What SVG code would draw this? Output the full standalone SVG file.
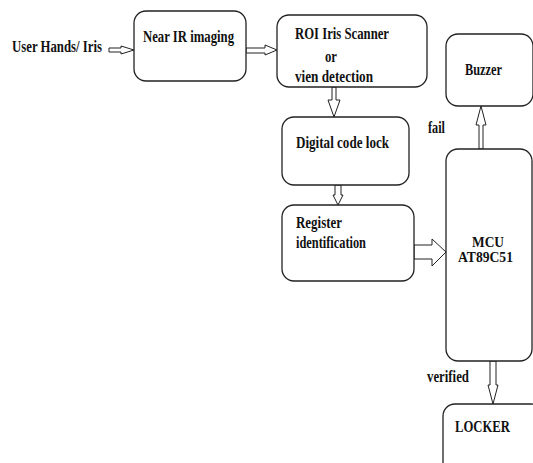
<svg xmlns="http://www.w3.org/2000/svg" width="533" height="463" viewBox="0 0 533 463">
<style>
.box{fill:#fff;stroke:#222;stroke-width:1.3}
.arr{fill:#fff;stroke:#222;stroke-width:1;stroke-linejoin:miter}
text{font-family:"Liberation Serif","Times New Roman",serif;font-weight:bold;font-size:16px;fill:#111}
</style>
<rect width="533" height="463" fill="#fff"/>
<g id="connectors">
<polygon class="arr" points="109,48 121,48 121,46 134,50 121,54 121,52 109,52"/>
<polygon class="arr" points="246,48 265,48 265,45 277,50 265,55 265,53 246,53"/>
<polygon class="arr" points="332,87 336,87 336,100 340,100 334,117 328,100 332,100"/>
<polygon class="arr" points="335,185 341,185 341,195 343,195 338,205 333,195 335,195"/>
<polygon class="arr" points="414,245 432,245 432,239 446,252 432,266 432,259 414,259"/>
<polygon class="arr" points="479,149 483,149 483,125 486,125 481,106 476,125 479,125"/>
<polygon class="arr" points="490,361 496,361 496,385 498,385 493,404 488,385 490,385"/>
</g>
<g id="user"><text x="12" y="52" textLength="90" lengthAdjust="spacingAndGlyphs">User Hands/ Iris</text></g>
<g id="nearir"><rect class="box" x="134" y="11" width="112" height="70" rx="12"/><text x="143" y="42" textLength="91" lengthAdjust="spacingAndGlyphs">Near IR imaging</text></g>
<g id="roi"><rect class="box" x="277" y="15" width="150" height="72" rx="12"/>
<text x="295" y="39" textLength="94" lengthAdjust="spacingAndGlyphs">ROI Iris Scanner</text>
<text x="325" y="62" textLength="12" lengthAdjust="spacingAndGlyphs">or</text>
<text x="295" y="82" textLength="78" lengthAdjust="spacingAndGlyphs">vien detection</text></g>
<g id="digital"><rect class="box" x="282" y="117" width="127" height="68" rx="12"/><text x="296" y="148" textLength="93" lengthAdjust="spacingAndGlyphs">Digital code lock</text></g>
<g id="register"><rect class="box" x="282" y="205" width="132" height="76" rx="12"/>
<text x="296" y="228" textLength="46" lengthAdjust="spacingAndGlyphs">Register</text>
<text x="296" y="248" textLength="70" lengthAdjust="spacingAndGlyphs">identification</text></g>
<g id="buzzer"><rect class="box" x="446" y="34" width="87" height="72" rx="12"/><text x="465" y="75" textLength="37" lengthAdjust="spacingAndGlyphs">Buzzer</text></g>
<g id="mcu"><rect class="box" x="446" y="149" width="86" height="212" rx="12"/>
<text style="font-size:15px"><tspan x="472" y="247" textLength="32" lengthAdjust="spacingAndGlyphs">MCU</tspan><tspan x="458" y="262" textLength="55" lengthAdjust="spacingAndGlyphs">AT89C51</tspan></text></g>
<g id="locker"><rect class="box" x="443" y="404" width="100" height="70" rx="12"/><text x="455" y="432" textLength="55" lengthAdjust="spacingAndGlyphs">LOCKER</text></g>
<g id="labels">
<text x="428" y="133" textLength="17" lengthAdjust="spacingAndGlyphs">fail</text>
<text x="427" y="382" textLength="42" lengthAdjust="spacingAndGlyphs">verified</text>
</g>
</svg>
